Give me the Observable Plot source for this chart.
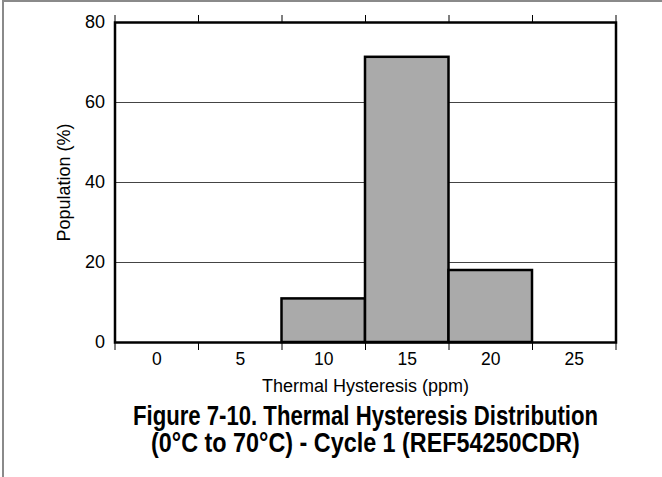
<!DOCTYPE html>
<html>
<head>
<meta charset="utf-8">
<script src="https://cdn.jsdelivr.net/npm/d3@7"></script>
<script src="https://cdn.jsdelivr.net/npm/@observablehq/plot@0.6"></script>
<style>
  html, body { margin: 0; padding: 0; background: #fff; }
  body { width: 662px; height: 477px; position: relative; overflow: hidden; font-family: "Liberation Sans", Arial, sans-serif; }
  #border { position: absolute; left: 2px; top: 0px; width: 700px; height: 500px; border-left: 2px solid #8a8a8a; border-top: 2px solid #8a8a8a; box-sizing: border-box; pointer-events: none; }
  #chart { position: absolute; left: 0; top: 0; }
  #chart svg text { font-family: "Liberation Sans", Arial, sans-serif; fill: #000; }
  .tline { position: absolute; left: 0; width: 731px; text-align: center; font-weight: bold; font-size: 27px; line-height: 27.4px; color: #000; white-space: nowrap; transform-origin: 365.5px 0; }
  #t1 { top: 403px; transform: scaleX(0.82); }
  #t2 { top: 430.4px; transform: scaleX(0.865); }
</style>
</head>
<body>
<div id="chart"></div>
<div id="t1" class="tline">Figure 7-10. Thermal Hysteresis Distribution</div>
<div id="t2" class="tline">(0°C to 70°C) - Cycle 1 (REF54250CDR)</div>
<div id="border"></div>
<script>
const categories = [0, 5, 10, 15, 20, 25];
const population = [0, 0, 10.9, 71.3, 18.0, 0];
const binWidth = 5;
const yTicks = [0, 20, 40, 60, 80];
const gridValues = [20, 40, 60];
const xLabel = "Thermal Hysteresis (ppm)";
const yLabel = "Population (%)";

const data = categories.map((c, i) => ({ c, x1: c - binWidth / 2, x2: c + binWidth / 2, v: population[i] }));
const edges = [categories[0] - binWidth / 2, ...categories.map(c => c + binWidth / 2)];

const plot = Plot.plot({
  width: 662,
  height: 400,
  marginLeft: 114.5,
  marginRight: 46.5,
  marginTop: 22,
  marginBottom: 58,
  style: { fontFamily: "'Liberation Sans', Arial, sans-serif", fontSize: "17px", color: "#000", background: "transparent" },
  x: { type: "linear", domain: [edges[0], edges[edges.length - 1]] },
  y: { domain: [0, 80] },
  marks: [
    Plot.ruleY(gridValues, { stroke: "#444", strokeWidth: 1 }),
    Plot.rectY(data, { x1: "x1", x2: "x2", y: "v", fill: "#aaaaaa", stroke: "#000", strokeWidth: 2.5 }),
    Plot.frame({ stroke: "#000", strokeWidth: 2.5 }),
    Plot.axisX({ anchor: "bottom", ticks: edges, tickSize: 8, tickFormat: () => "", label: null, stroke: "#000" }),
    Plot.axisX({ anchor: "top", ticks: edges, tickSize: 8, tickFormat: () => "", label: null, stroke: "#000" }),
    Plot.axisX({ anchor: "bottom", ticks: categories, tickSize: 0, tickPadding: 10, tickFormat: d => String(d), label: null, fontSize: 17.5 }),
    Plot.axisX({ anchor: "bottom", ticks: [], tickSize: 0, label: xLabel, labelAnchor: "center", labelArrow: "none", labelOffset: 49, fontSize: 18 }),
    Plot.axisY({ ticks: yTicks, tickSize: 0, tickPadding: 10, tickFormat: d => String(d), label: yLabel, labelAnchor: "center", labelArrow: "none", labelOffset: 58, fontSize: 18 })
  ]
});
document.getElementById("chart").appendChild(plot);
</script>
</body>
</html>
